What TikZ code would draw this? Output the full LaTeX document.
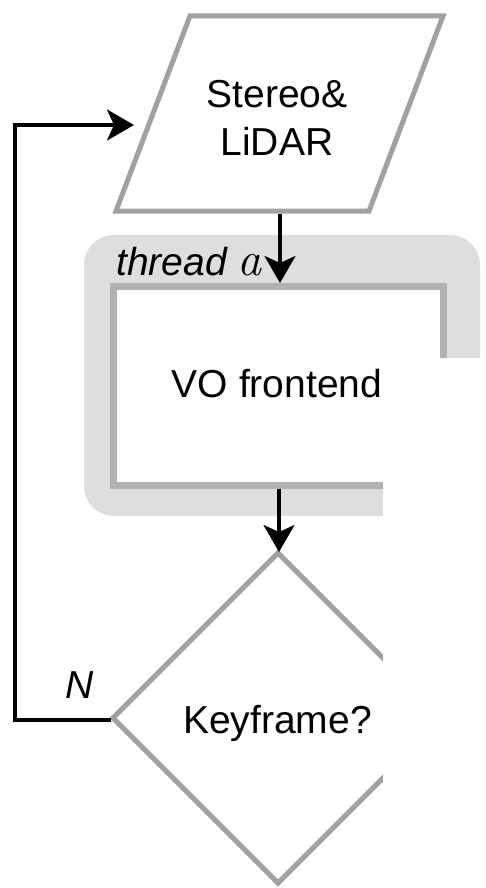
\documentclass[tikz,border=0pt]{standalone}
\usepackage{fontspec}
\setsansfont{Liberation Sans}
\usetikzlibrary{arrows.meta}
\begin{document}
\begin{tikzpicture}[x=1pt,y=-1pt,
  lbl/.style={font=\sffamily\fontsize{39}{47}\selectfont, inner sep=0pt, anchor=base},
  shapeline/.style={draw=black!37, line width=5pt, line join=miter},
  conn/.style={draw=black, line width=3.2pt, -{Stealth[length=27pt,width=31pt,inset=7pt]}},
  plain/.style={draw=black, line width=3.2pt}
]
\useasboundingbox (0,0) rectangle (485,888);
\fill[white] (0,0) rectangle (485,888);
% thread background
\fill[black!13, rounded corners=30pt] (84,235) rectangle (480,516);
% VO frontend box
\draw[fill=white, draw=black!30, line width=7pt] (113,286.5) rectangle (443.5,485);
\coordinate (vo-n) at (280,283);
\coordinate (vo-s) at (279,488.5);
% input parallelogram
\draw[shapeline, fill=white] (190,16) -- (443,16) -- (369,211) -- (116,211) -- cycle;
\coordinate (in-s) at (280,213.5);
\coordinate (in-w) at (134,125);
% decision diamond
\draw[shapeline, fill=white] (278,553) -- (443,718) -- (278,883) -- (113,718) -- cycle;
\coordinate (kf-n) at (279,552);
\coordinate (kf-w) at (111,720);
% white mask on the right
\fill[white] (383,358) rectangle (485,888);
% texts
\node[lbl] (in1) at (277,107) {Stereo\&};
\node[lbl] (in2) at (277,155) {LiDAR};
\node[lbl] (vo) at (277,397) {VO frontend};
\node[lbl] (kf) at (277.5,733) {Keyframe?};
\node[lbl, anchor=base west] (th) at (116,275) {\itshape thread {\rmfamily\fontsize{48}{54}\selectfont a}};
\node[lbl] (n) at (80,698) {\itshape N};
% connectors
\draw[conn] (in-s) -- (vo-n);
\draw[conn] (vo-s) -- (kf-n);
\coordinate (loop-b) at (15,720);
\draw[conn] (kf-w) -- (loop-b) |- (in-w);
\end{tikzpicture}
\end{document}
